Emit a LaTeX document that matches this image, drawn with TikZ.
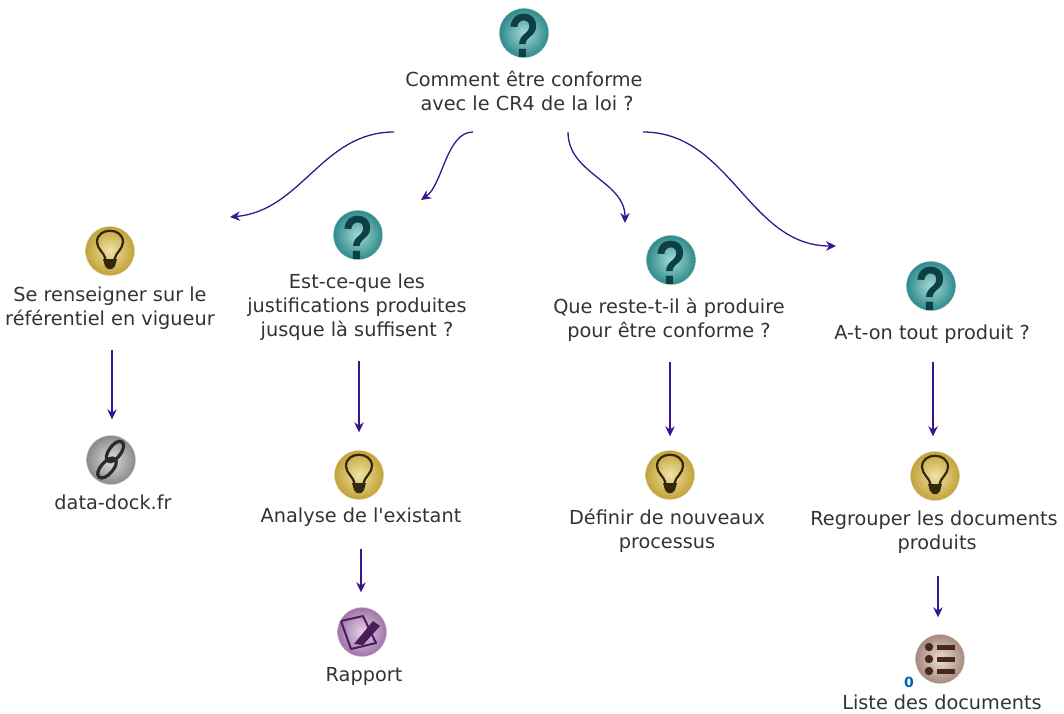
\documentclass[tikz,border=0pt]{standalone}
\usepackage{fontspec}
\setmainfont{DejaVu Sans}
\newfontfamily\qfont{Liberation Sans}
\newfontfamily\aposfont{DejaVu Sans}
\usetikzlibrary{arrows.meta}
\definecolor{arrowcol}{HTML}{3A1590}
\definecolor{txtcol}{HTML}{333333}
\definecolor{qdark}{HTML}{0E3F45}
\definecolor{qlight}{HTML}{A5DCD6}
\definecolor{qouter}{HTML}{2F8A8C}
\definecolor{bulbdark}{HTML}{33280C}
\definecolor{bulblight}{HTML}{EFE3A4}
\definecolor{bulbouter}{HTML}{C2A23A}
\definecolor{linkdark}{HTML}{2A2A2A}
\definecolor{linklight}{HTML}{DDDDDD}
\definecolor{linkouter}{HTML}{8A8A8A}
\definecolor{notedark}{HTML}{4A1C58}
\definecolor{notelight}{HTML}{E6D2E8}
\definecolor{noteouter}{HTML}{A074A8}
\definecolor{listdark}{HTML}{4A2818}
\definecolor{listlight}{HTML}{EADED8}
\definecolor{listouter}{HTML}{A58A7E}
\begin{document}
\begin{tikzpicture}[x=1pt,y=-1pt]
\tikzset{edge/.style = {-{Stealth[length=10pt,width=9.5pt]}, arrowcol, line width=1.3pt}}
\tikzset{lbl/.style = {align=center, inner sep=0pt, text=txtcol, font=\fontsize{19.3}{24}\selectfont}}
\tikzset{icon/.style = {shape=circle, inner sep=0pt, minimum size=49pt, shading=radial}}
\tikzset{qmark/.style = {inner sep=0pt, text=qdark, yshift=-3pt, xscale=0.82, transform shape, font=\fontsize{62}{62}\selectfont\qfont\bfseries}}
\tikzset{question/.style = {icon, inner color=qlight, outer color=qouter, draw=qouter!70!white, label={[qmark]center:?}}}
\tikzset{bulb/.style = {icon, inner color=bulblight, outer color=bulbouter, draw=bulbouter!50!white,
  path picture={
    \draw[bulbdark, line width=2.2pt] (-4.5,8) .. controls (-5.5,2) and (-13,-2) .. (-13,-9)
      .. controls (-13,-24) and (13,-24) .. (13,-9) .. controls (13,-2) and (5.5,2) .. (4.5,8);
    \fill[bulbdark] (-7,8) -- (7,8) -- (5,15) -- (2,18) -- (-2,18) -- (-5,15) -- cycle;
  }}}
\tikzset{chain/.style = {icon, inner color=linklight, outer color=linkouter, draw=linkouter!50!white,
  path picture={
    \draw[linkdark, line width=3.2pt] (-3,1) .. controls (3.4,5.7) and (17.4,-13.3) .. (11,-18)
      .. controls (4.6,-22.7) and (-9.4,-3.7) .. cycle;
    \draw[linkdark, line width=3.2pt] (-12,17) .. controls (-6,22.3) and (10,4.3) .. (4,-1)
      .. controls (-2,-6.3) and (-18,11.7) .. cycle;
  }}}
\tikzset{report/.style = {icon, inner color=notelight, outer color=noteouter, draw=noteouter!50!white,
  path picture={
    \draw[notedark, line width=2pt, line join=round] (-21,-11) -- (1,-16) -- (14,11) -- (-11,17) -- cycle;
    \fill[notedark] (-8,12) -- (11,-11) -- (18,-6) -- (1,13) -- cycle;
  }}}
\tikzset{listing/.style = {icon, inner color=listlight, outer color=listouter, draw=listouter!50!white,
  path picture={
    \foreach \y in {-12,0,12} {
      \fill[listdark] (-11,\y) circle (4.2);
      \fill[listdark] (-3,\y-2.5) rectangle (15,\y+2.5);
    }
  }}}
\useasboundingbox (0,0) rectangle (1064,713);
% top question
\node[question](q0) at (524,33) {};
\node[lbl](t0) at (524,91) {Comment être conforme\\\ avec le CR4 de la loi ?};
% free ends of the curved arrows
\coordinate (s1) at (394,132);
\coordinate (e1) at (230,217);
\coordinate (s2) at (473,132);
\coordinate (e2) at (421,200);
\coordinate (s3) at (568,132);
\coordinate (e3) at (625,223);
\coordinate (s4) at (643,132);
\coordinate (e4) at (836,246);
% first column
\node[bulb](b1) at (110,251) {};
\node[lbl](t1) at (110,308) {Se renseigner sur le\\référentiel en vigueur};
\node[chain](l1) at (111,460) {};
\node[lbl](t2) at (113,502) {data-dock.fr};
% second column
\node[question](q2) at (358,235) {};
\node[lbl](t3) at (357,307) {Est-ce-que les\\justifications produites\\jusque là suffisent ?};
\node[bulb](b2) at (359,475) {};
\node[lbl](t4) at (361,517) {Analyse de l{\aposfont'}existant};
\node[report](r2) at (362,632) {};
\node[lbl](t5) at (364,676) {Rapport};
% third column
\node[question](q3) at (671,260) {};
\node[lbl](t6) at (669,320) {Que reste-t-il à produire\\pour être conforme ?};
\node[bulb](b3) at (670,475) {};
\node[lbl](t7) at (667,531) {Définir de nouveaux\\processus};
% fourth column
\node[question](q4) at (931,286) {};
\node[lbl](t8) at (932,334) {A-t-on tout produit ?};
\node[bulb](b4) at (935,476) {};
\node[lbl](t9) at (934,532) {Regrouper les documents\\\ produits};
\node[listing](d4) at (940,659) {};
\node[inner sep=0pt, text=blue!45!cyan!70!black, font=\fontsize{14}{14}\selectfont\bfseries](n4) at (909,682) {0};
\node[lbl](t10) at (942,702) {Liste des documents};
% curved arrows
\draw[edge] (s1) to[out=180,in=5,looseness=1] (e1);
\draw[edge] (s2) to[out=180,in=35,looseness=0.8] (e2);
\draw[edge] (s3) to[out=-90,in=90,looseness=1] (e3);
\draw[edge] (s4) to[out=0,in=180,looseness=1] (e4);
% straight arrows
\draw[edge] ([xshift=2,yshift=-20]t1.south) -- ([xshift=1,yshift=16]l1.north);
\draw[edge] ([xshift=2,yshift=-20]t3.south) -- ([yshift=18]b2.north);
\draw[edge] ([xshift=1,yshift=-20]t6.south) -- ([yshift=14]b3.north);
\draw[edge] ([xshift=1,yshift=-18]t8.south) -- ([xshift=-2,yshift=15]b4.north);
\draw[edge] ([yshift=-22]t4.south) -- ([xshift=-1,yshift=15]r2.north);
\draw[edge] ([xshift=4,yshift=-22]t9.south) -- ([xshift=-2,yshift=17]d4.north);
\end{tikzpicture}
\end{document}
